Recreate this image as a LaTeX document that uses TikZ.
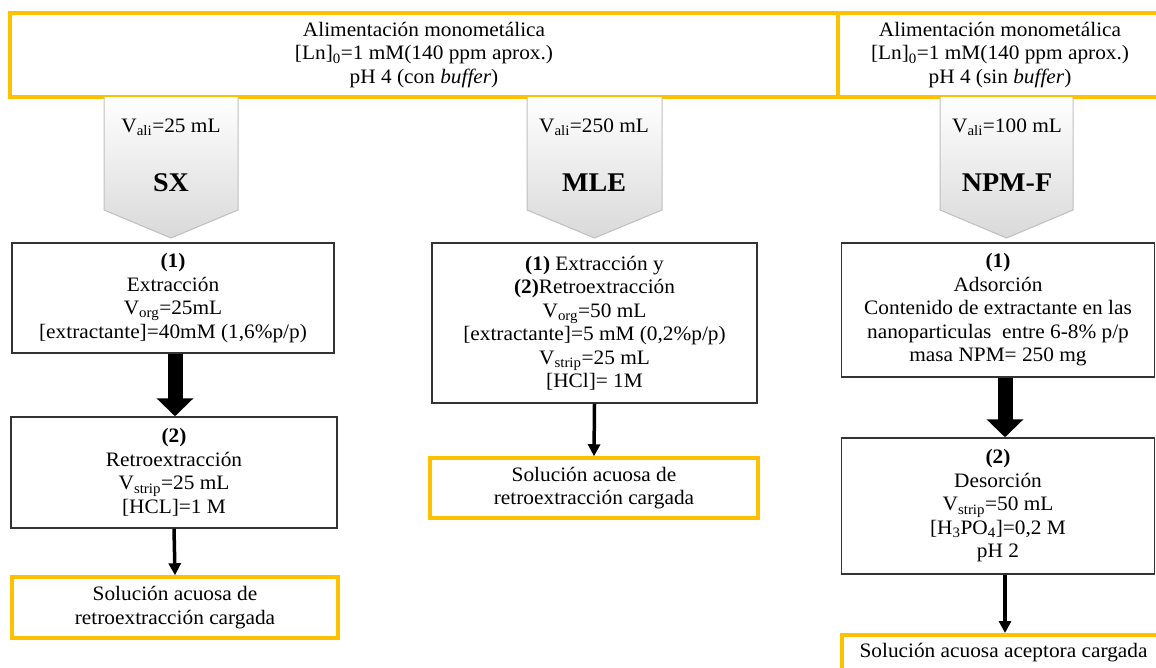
\documentclass[tikz,border=0pt]{standalone}
\usepackage{fontspec}
\setmainfont{Liberation Serif}[FakeStretch=1.04]
\usetikzlibrary{arrows.meta}
\definecolor{gold}{HTML}{FFC000}
\definecolor{boxline}{HTML}{333333}
\definecolor{chevline}{HTML}{BFBFBF}
\definecolor{chevfill}{HTML}{D9D9D9}
% gradient chevron hanging under the feed banners: left x, right x
\newcommand\chevron[2]{%
  \shade[top color=white,bottom color=chevfill]
    (#1,97) -- (#2,97) -- (#2,210) -- ({(#1+#2)/2},238) -- (#1,210) -- cycle;
  \draw[chevline,line width=1pt]
    (#1,97) -- (#1,210) -- ({(#1+#2)/2},238) -- (#2,210) -- (#2,97);}
\begin{document}
\begin{tikzpicture}[x=1pt,y=-1pt,
  every node/.style={font=\fontsize{20.5}{23.5}\selectfont,align=center,inner sep=0pt},
  feedbox/.style={draw=gold,line width=3.5pt,fill=white},
  stepbox/.style={draw=boxline,line width=1.5pt,fill=white},
  outbox/.style={draw=gold,line width=3.5pt,fill=white},
  tag/.style={font=\fontsize{27}{30}\selectfont\bfseries},
  bigarrow/.style={draw=black,line width=15pt,-{Triangle[width=36pt,length=18pt]}},
  flowline/.style={draw=black,line width=3.5pt,-{Triangle[width=12pt,length=12pt]}}]
\useasboundingbox (0,0) rectangle (1156,667);
\clip (0,0) rectangle (1156,667);

% feed solutions
\node[feedbox,minimum width=828pt,minimum height=84pt] (feed1) at (424,55)
  {Alimentación monometálica\\{}[Ln]\textsubscript{0}=1 mM(140 ppm aprox.)\\pH 4 (con \textit{buffer})};
\node[feedbox,minimum width=324pt,minimum height=84pt] (feed2) at (1000,55)
  {Alimentación monometálica\\{}[Ln]\textsubscript{0}=1 mM(140 ppm aprox.)\\pH 4 (sin \textit{buffer})};

% technique chevrons
\chevron{104}{238}
\chevron{527}{662}
\chevron{940}{1073}
\node (sxv) at (171,127) {V\textsubscript{ali}=25 mL};
\node[tag] (sx) at (171,183) {SX};
\node (mlev) at (594,127) {V\textsubscript{ali}=250 mL};
\node[tag] (mle) at (594,183) {MLE};
\node (npmv) at (1007,127) {V\textsubscript{ali}=100 mL};
\node[tag] (npm) at (1007,183) {NPM-F};

% SX column
\node[stepbox,minimum width=322pt,minimum height=110pt] (sx1) at (173,298)
  {\textbf{(1)}\\Extracción\\V\textsubscript{org}=25mL\\{}[extractante]=40mM (1,6\%p/p)};
\node[stepbox,minimum width=326pt,minimum height=111pt] (sx2) at (174,472.5)
  {\textbf{(2)}\\Retroextracción\\V\textsubscript{strip}=25 mL\\{}[HCL]=1 M};
\node[outbox,minimum width=326pt,minimum height=61pt] (sxout) at (175,607.5)
  {Solución acuosa de\\retroextracción cargada};
\draw[bigarrow] ([xshift=2pt]sx1.south) -- ([xshift=1pt]sx2.north);
\draw[flowline] (sx2.south) -- (sxout.north);

% MLE column
\node[stepbox,minimum width=325pt,minimum height=160pt] (mle1) at (594.5,323)
  {\textbf{(1)} Extracción y\\\textbf{(2)}Retroextracción\\V\textsubscript{org}=50 mL\\{}[extractante]=5 mM (0,2\%p/p)\\V\textsubscript{strip}=25 mL\\{}[HCl]= 1M};
\node[outbox,minimum width=328pt,minimum height=60pt] (mleout) at (594,488)
  {Solución acuosa de\\retroextracción cargada};
\draw[flowline] (mle1.south) -- (mleout.north);

% NPM-F column
\node[stepbox,minimum width=313pt,minimum height=134pt] (npm1) at (998,310)
  {\textbf{(1)}\\Adsorción\\Contenido de extractante en las\\nanoparticulas\ \ entre 6-8\% p/p\\masa NPM= 250 mg};
\node[stepbox,minimum width=313pt,minimum height=136pt] (npm2) at (998,506)
  {\textbf{(2)}\\Desorción\\V\textsubscript{strip}=50 mL\\{}[H\textsubscript{3}PO\textsubscript{4}]=0,2 M\\pH 2};
\node[outbox,minimum width=323pt,minimum height=61pt,anchor=north] (npmout) at (1003.5,633)
  {Solución acuosa aceptora cargada\\\strut};
\draw[bigarrow] ([xshift=7pt]npm1.south) -- ([xshift=7pt]npm2.north);
\draw[flowline] ([xshift=7pt]npm2.south) -- ([xshift=1.5pt]npmout.north);
\end{tikzpicture}
\end{document}
